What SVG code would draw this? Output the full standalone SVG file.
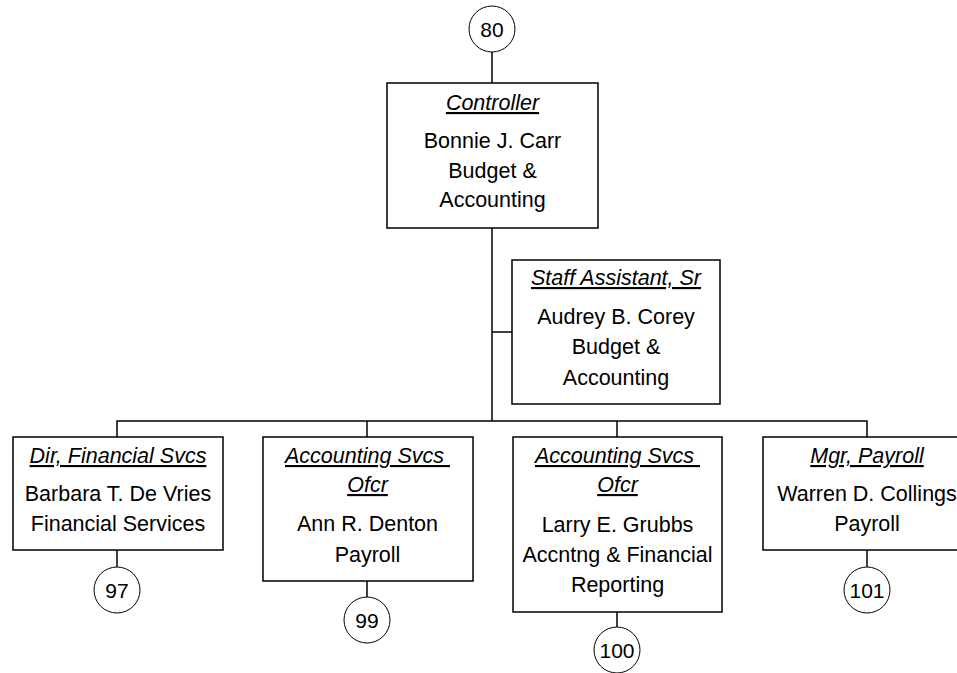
<svg xmlns="http://www.w3.org/2000/svg" width="957" height="673" viewBox="0 0 957 673">
<style>
.box{fill:#fff;stroke:#000;stroke-width:1.5}
.circ{fill:#fff;stroke:#000;stroke-width:1}
.conn{fill:none;stroke:#000;stroke-width:1.5}
text{font-family:"Liberation Sans",Arial,sans-serif;font-size:21.5px;fill:#000;text-anchor:middle}
.t{font-style:italic;text-decoration:underline}
.n{font-size:21px}
</style>
<rect width="957" height="673" fill="#fff"/>
<g id="connectors">
<line class="conn" x1="492" y1="52" x2="492" y2="83"/>
<line class="conn" x1="492" y1="228" x2="492" y2="421"/>
<line class="conn" x1="492" y1="332" x2="512" y2="332"/>
<polyline class="conn" points="117,437 117,421 867,421 867,437"/>
<line class="conn" x1="367" y1="421" x2="367" y2="437"/>
<line class="conn" x1="617" y1="421" x2="617" y2="437"/>
<line class="conn" x1="117" y1="550" x2="117" y2="567"/>
<line class="conn" x1="367" y1="581" x2="367" y2="597"/>
<line class="conn" x1="617" y1="612" x2="617" y2="627"/>
<line class="conn" x1="867" y1="550" x2="867" y2="567"/>
</g>
<g id="ref80">
<circle class="circ" cx="492" cy="29" r="23"/>
<text class="n" x="492" y="37">80</text>
</g>
<g id="controller">
<rect class="box" x="387" y="83" width="211" height="145"/>
<text class="t" x="492.5" y="110">Controller</text>
<text x="492.5" y="148">Bonnie J. Carr</text>
<text x="492.5" y="178">Budget &amp;</text>
<text x="492.5" y="207">Accounting</text>
</g>
<g id="staff-assistant">
<rect class="box" x="512" y="260" width="208" height="144"/>
<text class="t" x="616" y="285">Staff Assistant, Sr</text>
<text x="616" y="324">Audrey B. Corey</text>
<text x="616" y="354">Budget &amp;</text>
<text x="616" y="385">Accounting</text>
</g>
<g id="dir-financial">
<rect class="box" x="13" y="437" width="210" height="113"/>
<text class="t" x="118" y="463">Dir, Financial Svcs</text>
<text x="118" y="501">Barbara T. De Vries</text>
<text x="118" y="531">Financial Services</text>
</g>
<g id="ref97">
<circle class="circ" cx="117" cy="590" r="23"/>
<text class="n" x="117" y="598">97</text>
</g>
<g id="acct-svcs-1">
<rect class="box" x="263" y="437" width="210" height="144"/>
<text class="t" x="367.5" y="463" xml:space="preserve">Accounting Svcs </text>
<text class="t" x="367.5" y="492">Ofcr</text>
<text x="367.5" y="531">Ann R. Denton</text>
<text x="367.5" y="562">Payroll</text>
</g>
<g id="ref99">
<circle class="circ" cx="367" cy="620" r="23"/>
<text class="n" x="367" y="628">99</text>
</g>
<g id="acct-svcs-2">
<rect class="box" x="513" y="437" width="209" height="175"/>
<text class="t" x="617.5" y="463" xml:space="preserve">Accounting Svcs </text>
<text class="t" x="617.5" y="492">Ofcr</text>
<text x="617.5" y="532">Larry E. Grubbs</text>
<text x="617.5" y="562">Accntng &amp; Financial</text>
<text x="617.5" y="592">Reporting</text>
</g>
<g id="ref100">
<circle class="circ" cx="617" cy="650" r="23"/>
<text class="n" x="617" y="658">100</text>
</g>
<g id="mgr-payroll">
<rect class="box" x="763" y="437" width="210" height="113"/>
<text class="t" x="867" y="463">Mgr, Payroll</text>
<text x="867" y="501">Warren D. Collings</text>
<text x="867" y="531">Payroll</text>
</g>
<g id="ref101">
<circle class="circ" cx="867" cy="590" r="23"/>
<text class="n" x="867" y="598">101</text>
</g>
</svg>
